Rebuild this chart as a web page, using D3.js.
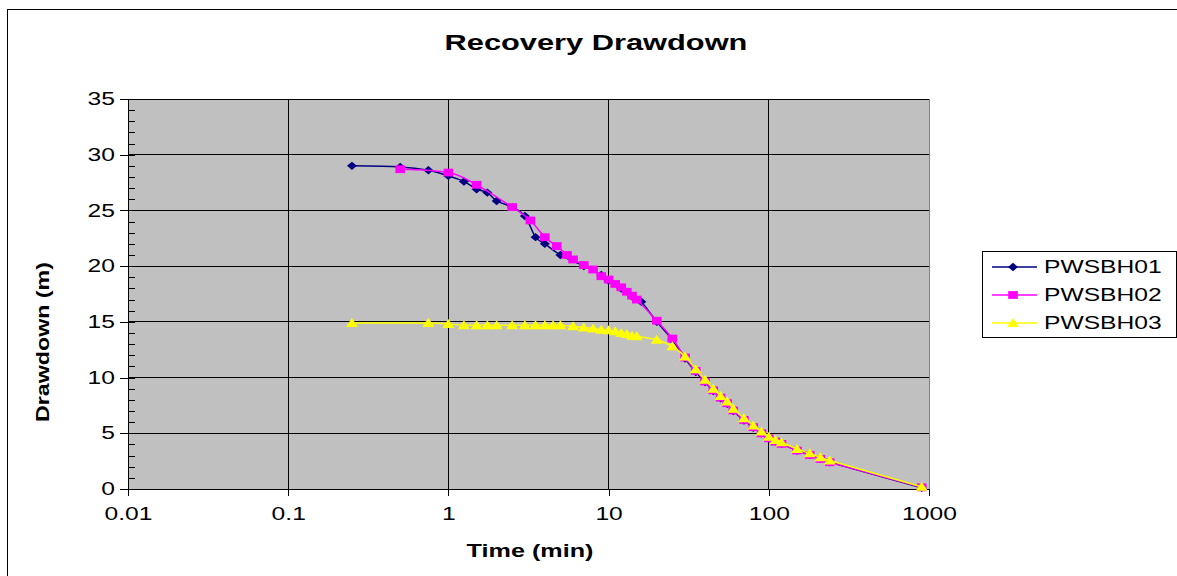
<!DOCTYPE html>
<html>
<head>
<meta charset="utf-8">
<script src="https://cdn.jsdelivr.net/npm/d3@7/dist/d3.min.js"></script>
<style>
  body { margin: 0; background: #fff; }
  svg text { font-family: "Liberation Sans", Arial, sans-serif; fill: #000; }
</style>
</head>
<body>
<div id="chart"></div>
<script>
// data (time in min, drawdown in m)
const seriesNames = ["PWSBH01", "PWSBH02", "PWSBH03"];

const timeH01 = [0.25, 0.5, 0.75, 1, 1.25, 1.5, 1.75, 2, 2.5, 3, 3.5, 4, 5, 7, 9, 10, 12, 14, 16, 20, 25,
  30, 35, 40, 45, 50, 55, 60, 70, 80, 90, 100, 110, 120, 150, 180, 210, 240, 900];
const drawH01 = [29.0, 28.9, 28.6, 28.1, 27.6, 26.9, 26.6, 25.85, 25.3, 24.5, 22.6, 22.0, 21.0, 20.0, 19.2, 18.7, 18.0, 17.3, 16.8, 15.0, 13.4,
  11.7, 10.5, 9.6, 8.8, 8.15, 7.65, 7.0, 6.15, 5.5, 5.0, 4.5, 4.25, 4.05, 3.45, 3.05, 2.7, 2.4, 0.1];

const timeH02 = [0.5, 1, 1.5, 2.5, 3.25, 4, 4.75, 5.5, 6, 7, 8, 9, 10, 11, 12, 13, 14, 15, 20, 25,
  30, 35, 40, 45, 50, 55, 60, 70, 80, 90, 100, 110, 120, 150, 180, 210, 240, 900];
const drawH02 = [28.7, 28.4, 27.3, 25.3, 24.1, 22.6, 21.8, 21.0, 20.6, 20.1, 19.7, 19.1, 18.8, 18.4, 18.1, 17.7, 17.35, 17.0, 15.1, 13.5,
  11.8, 10.6, 9.65, 8.85, 8.2, 7.7, 7.05, 6.2, 5.55, 5.0, 4.55, 4.25, 4.05, 3.45, 3.05, 2.7, 2.4, 0.15];

const timeH03 = [0.25, 0.75, 1, 1.25, 1.5, 1.75, 2, 2.5, 3, 3.5, 4, 4.5, 5, 6, 7, 8, 9, 10, 11, 12, 13, 14, 15, 20, 25,
  30, 35, 40, 45, 50, 55, 60, 70, 80, 90, 100, 110, 120, 150, 180, 210, 240, 900];
const drawH03 = [14.9, 14.9, 14.8, 14.7, 14.7, 14.7, 14.7, 14.7, 14.7, 14.7, 14.7, 14.7, 14.7, 14.6, 14.5, 14.4, 14.3, 14.25, 14.15, 14.0, 13.9, 13.75, 13.7, 13.4, 12.8,
  11.9, 10.75, 9.8, 9.0, 8.35, 7.85, 7.2, 6.35, 5.7, 5.15, 4.7, 4.4, 4.2, 3.6, 3.2, 2.85, 2.55, 0.2];

const xTicks = [0.01, 0.1, 1, 10, 100, 1000];
const yTicks = [0, 5, 10, 15, 20, 25, 30, 35];

const W = 1177, H = 576;
const plot = {left: 128, right: 929, top: 99, bottom: 489};
const STRETCH = 1.4; // the reference text is drawn wide

const svg = d3.select("#chart").append("svg")
    .attr("width", W)
    .attr("height", H);

// outer chart frame
svg.append("rect")
    .attr("x", 7.5).attr("y", 9.5)
    .attr("width", 1300).attr("height", 700)
    .attr("fill", "#fff")
    .attr("stroke", "#000");

const x = d3.scaleLog().domain([0.01, 1000]).range([plot.left, plot.right]);
const y = d3.scaleLinear().domain([0, 35]).range([plot.bottom, plot.top]);

// plot area
svg.append("rect")
    .attr("x", plot.left).attr("y", plot.top)
    .attr("width", plot.right - plot.left)
    .attr("height", plot.bottom - plot.top)
    .attr("fill", "#c0c0c0")
    .attr("stroke", "#808080")
    .attr("shape-rendering", "crispEdges");

// gridlines
svg.append("g").selectAll("line")
    .data(yTicks.slice(1))
    .join("line")
    .attr("x1", plot.left).attr("x2", plot.right)
    .attr("y1", d => y(d)).attr("y2", d => y(d))
    .attr("stroke", "#000")
    .attr("shape-rendering", "crispEdges");

svg.append("g").selectAll("line")
    .data(xTicks.slice(1, -1))
    .join("line")
    .attr("x1", d => x(d)).attr("x2", d => x(d))
    .attr("y1", plot.top).attr("y2", plot.bottom)
    .attr("stroke", "#000")
    .attr("shape-rendering", "crispEdges");

// axes
let xAxis = svg.append("g")
    .attr("transform", `translate(0,${plot.bottom})`)
    .call(d3.axisBottom(x).tickValues(xTicks).tickSize(7).tickSizeOuter(0).tickPadding(12).tickFormat(d => String(d)));
xAxis.selectAll("text")
    .attr("font-size", 17.6)
    .attr("transform", `scale(${STRETCH},1)`);

let yAxis = svg.append("g")
    .attr("transform", `translate(${plot.left},0)`)
    .call(d3.axisLeft(y).tickValues(yTicks).tickSize(8).tickSizeOuter(0).tickPadding(5));
yAxis.selectAll("text")
    .attr("font-size", 17.6)
    .attr("x", -13 / STRETCH)
    .attr("transform", `scale(${STRETCH},1)`);

// minor ticks inside the plot
svg.append("g")
    .attr("transform", `translate(${plot.left},0)`)
    .call(d3.axisRight(y).tickValues(d3.range(0, 36, 1)).tickSize(7).tickSizeOuter(0).tickFormat(""))
    .select(".domain").remove();

svg.selectAll(".tick line, .domain")
    .attr("stroke", "#000")
    .attr("shape-rendering", "crispEdges");

// titles
function wideText(tx, ty, str, size, weight) {
  return svg.append("text")
      .attr("transform", `translate(${tx},${ty}) scale(${STRETCH},1)`)
      .attr("text-anchor", "middle")
      .attr("font-size", size)
      .attr("font-weight", weight)
      .text(str);
}

wideText(596, 50, "Recovery Drawdown", 22, "bold");
wideText(530, 557, "Time (min)", 18, "bold");

svg.append("text")
    .attr("transform", `translate(49,342) rotate(-90)`)
    .attr("text-anchor", "middle")
    .attr("font-size", 19)
    .attr("font-weight", "bold")
    .attr("textLength", 160)
    .attr("lengthAdjust", "spacingAndGlyphs")
    .text("Drawdown (m)");

// series
const markers = {
  diamond: "M-5,0L0,-4.2L5,0L0,4.2Z",
  square: "M-4.8,-3.9H4.8V3.9H-4.8Z",
  triangle: "M0,-5L6,4L-6,4Z"
};

const series = [
  {name: seriesNames[0], t: timeH01, d: drawH01, color: "#000080", marker: markers.diamond},
  {name: seriesNames[1], t: timeH02, d: drawH02, color: "#ff00ff", marker: markers.square},
  {name: seriesNames[2], t: timeH03, d: drawH03, color: "#ffff00", marker: markers.triangle}
];

const line = d3.line()
    .x(p => x(p[0]))
    .y(p => y(p[1]))
    .curve(d3.curveCatmullRom.alpha(0));

series.forEach(s => {
  const pts = s.t.map((t, i) => [t, s.d[i]]);
  let g = svg.append("g");
  g.append("path")
      .datum(pts)
      .attr("d", line)
      .attr("fill", "none")
      .attr("stroke", s.color)
      .attr("stroke-width", 1.5);
  g.selectAll("path.m")
      .data(pts)
      .join("path")
      .attr("class", "m")
      .attr("d", s.marker)
      .attr("transform", p => `translate(${x(p[0])},${y(p[1])})`)
      .attr("fill", s.color);
});

// legend
svg.append("rect")
    .attr("x", 982.5).attr("y", 251.5)
    .attr("width", 194).attr("height", 86)
    .attr("fill", "#fff")
    .attr("stroke", "#000");

const legendY = [267, 295, 323];
series.forEach((s, i) => {
  let g = svg.append("g").attr("transform", `translate(992,${legendY[i]})`);
  g.append("line")
      .attr("x1", 0).attr("x2", 45)
      .attr("stroke", s.color)
      .attr("stroke-width", 1.5);
  g.append("path")
      .attr("d", s.marker)
      .attr("transform", "translate(21,0)")
      .attr("fill", s.color);
  g.append("text")
      .attr("transform", `translate(52,0) scale(${STRETCH},1)`)
      .attr("dy", "0.36em")
      .attr("font-size", 17.6)
      .text(s.name);
});
</script>
</body>
</html>
